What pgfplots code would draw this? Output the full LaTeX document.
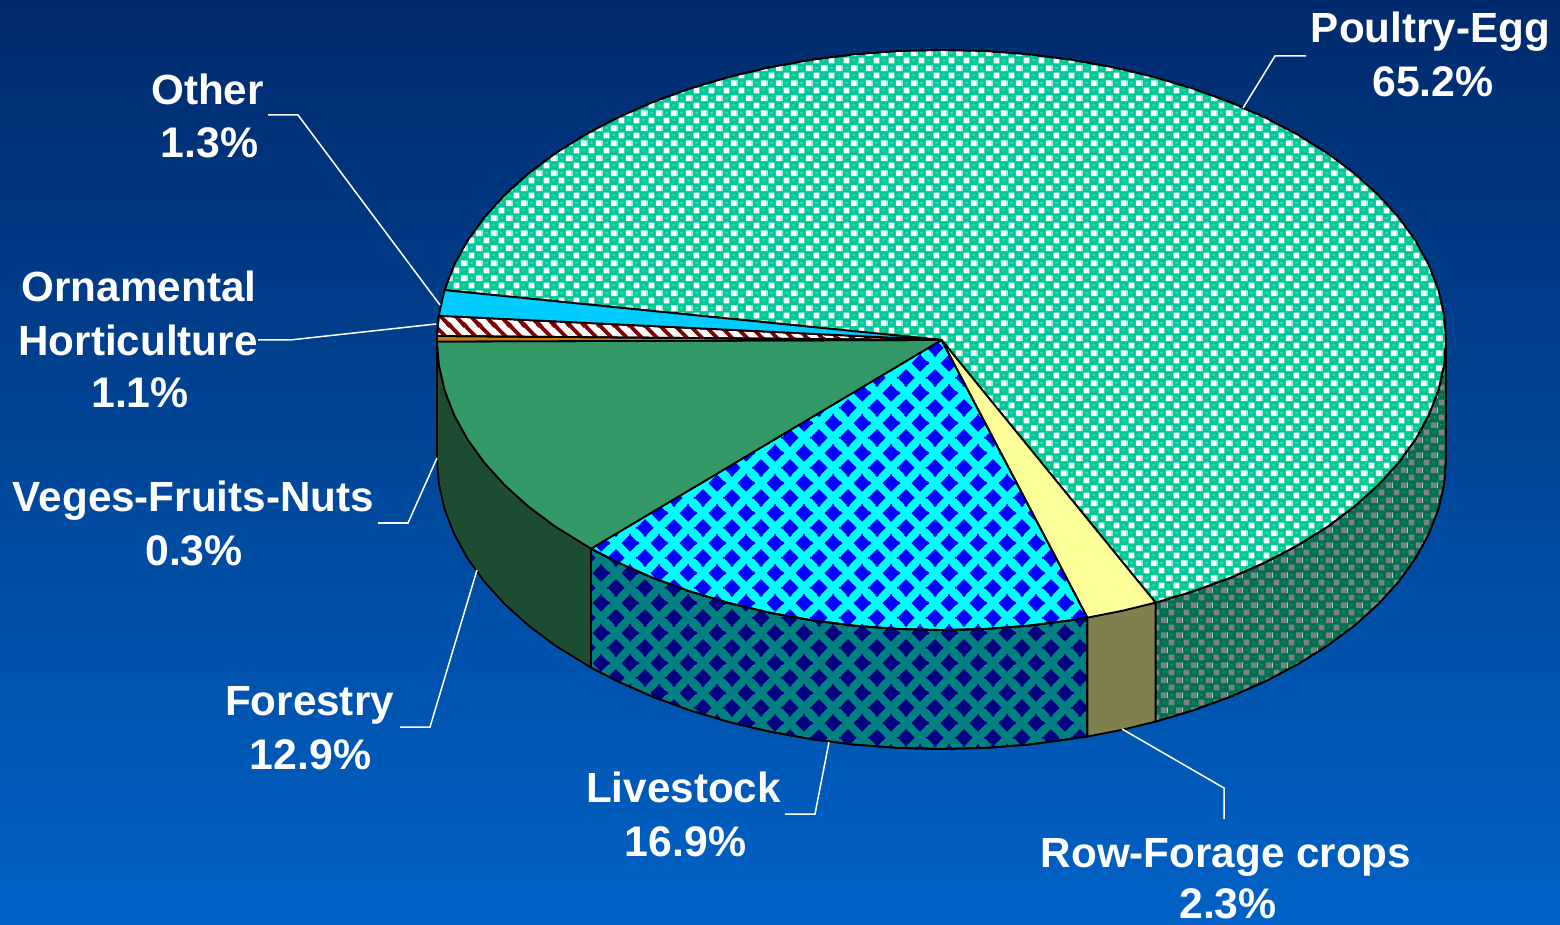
\documentclass[border=0pt]{standalone}
\usepackage{pgfplots}
\pgfplotsset{compat=1.18}
\usepackage{pgfplotstable}
\usepackage{fontspec}
\setmainfont{Liberation Sans}
\usetikzlibrary{patterns}
\definecolor{bgtop}{RGB}{0,42,108}
\definecolor{bgbot}{RGB}{0,98,198}
\definecolor{pdot}{RGB}{0,200,150}
\definecolor{phi}{RGB}{130,235,205}
\definecolor{pdotd}{RGB}{0,112,84}
\definecolor{phid}{RGB}{70,140,115}
\definecolor{pgray}{RGB}{128,128,128}
\definecolor{forT}{RGB}{51,153,102}
\definecolor{forS}{RGB}{28,77,51}
\definecolor{rowT}{RGB}{255,255,153}
\definecolor{rowS}{RGB}{128,128,77}
\definecolor{othT}{RGB}{0,204,255}
\definecolor{vegT}{RGB}{204,120,20}
\definecolor{hatch}{RGB}{128,0,0}
\definecolor{lvT}{RGB}{0,255,255}
\definecolor{lvD}{RGB}{0,0,255}
\definecolor{lvS}{RGB}{0,128,128}
\definecolor{lvN}{RGB}{0,0,128}
\newcommand{\checktile}[2]{%
 \pgfsetfillcolor{#1}%
 \pgfpathrectangle{\pgfqpoint{0.35pt}{0.35pt}}{\pgfqpoint{2.95pt}{2.95pt}}\pgfusepath{fill}%
 \pgfpathrectangle{\pgfqpoint{4pt}{4pt}}{\pgfqpoint{2.95pt}{2.95pt}}\pgfusepath{fill}%
 \pgfsetfillcolor{#2}%
 \pgfpathrectangle{\pgfqpoint{1.2pt}{5.5pt}}{\pgfqpoint{1.2pt}{0.45pt}}\pgfusepath{fill}%
 \pgfpathrectangle{\pgfqpoint{4.85pt}{1.85pt}}{\pgfqpoint{1.2pt}{0.45pt}}\pgfusepath{fill}}
\pgfdeclarepatterninherentlycolored{poultryT}{\pgfpointorigin}{\pgfqpoint{7.3pt}{7.3pt}}{\pgfqpoint{7.3pt}{7.3pt}}{\checktile{white}{phi}}
\pgfdeclarepatterninherentlycolored{poultryS}{\pgfpointorigin}{\pgfqpoint{7.3pt}{7.3pt}}{\pgfqpoint{7.3pt}{7.3pt}}{\checktile{pgray}{phid}}
\newcommand{\dia}[2]{%
 \pgfpathmoveto{\pgfqpoint{\dimexpr#1pt+4.4pt}{#2pt}}%
 \pgfpathlineto{\pgfqpoint{#1pt}{\dimexpr#2pt+4.4pt}}%
 \pgfpathlineto{\pgfqpoint{\dimexpr#1pt-4.4pt}{#2pt}}%
 \pgfpathlineto{\pgfqpoint{#1pt}{\dimexpr#2pt-4.4pt}}%
 \pgfpathclose\pgfusepath{fill}}
\newcommand{\diamondtile}[1]{\pgfsetfillcolor{#1}%
 \dia{3.625}{3.75}\dia{10.875}{11.25}\dia{18.125}{3.75}\dia{3.625}{18.75}\dia{-3.625}{11.25}\dia{10.875}{-3.75}}
\pgfdeclarepatterninherentlycolored{liveT}{\pgfpointorigin}{\pgfqpoint{14.5pt}{15pt}}{\pgfqpoint{14.5pt}{15pt}}{\diamondtile{lvD}}
\pgfdeclarepatterninherentlycolored{liveS}{\pgfpointorigin}{\pgfqpoint{14.5pt}{15pt}}{\pgfqpoint{14.5pt}{15pt}}{\diamondtile{lvN}}
\pgfdeclarepatterninherentlycolored{orn}{\pgfpointorigin}{\pgfqpoint{7.5pt}{7.5pt}}{\pgfqpoint{7.5pt}{7.5pt}}{%
 \pgfsetstrokecolor{hatch}\pgfsetlinewidth{2pt}%
 \pgfpathmoveto{\pgfqpoint{-1pt}{8.5pt}}\pgfpathlineto{\pgfqpoint{8.5pt}{-1pt}}%
 \pgfpathmoveto{\pgfqpoint{-1pt}{1pt}}\pgfpathlineto{\pgfqpoint{1pt}{-1pt}}%
 \pgfpathmoveto{\pgfqpoint{6.5pt}{8.5pt}}\pgfpathlineto{\pgfqpoint{8.5pt}{6.5pt}}\pgfusepath{stroke}}
% top faces: rim angle t (deg), r=1 on the rim, r=0 at the centre
\pgfplotstableread{
t r
189.9 1
195 1
200 1
205 1
210 1
215 1
220 1
225 1
230 1
235 1
240 1
245 1
250 1
255 1
260 1
265 1
270 1
275 1
280 1
285 1
290 1
295 1
300 1
305 1
310 1
315 1
320 1
325 1
330 1
335 1
340 1
345 1
350 1
355 1
360 1
365 1
370 1
375 1
380 1
385 1
390 1
395 1
400 1
405 1
410 1
415 1
420 1
424.9 1
0 0
}\topPoultry
\pgfplotstableread{
t r
64.9 1
69 1
73.2 1
0 0
}\topRow
\pgfplotstableread{
t r
73.2 1
75 1
80 1
85 1
90 1
95 1
100 1
105 1
110 1
115 1
120 1
125 1
130 1
134 1
0 0
}\topLive
\pgfplotstableread{
t r
134 1
140 1
145 1
150 1
155 1
160 1
165 1
170 1
175 1
179.7 1
0 0
}\topFor
\pgfplotstableread{
t r
179.7 1
180.8 1
0 0
}\topVeg
\pgfplotstableread{
t r
180.8 1
184.8 1
0 0
}\topOrn
\pgfplotstableread{
t r
184.8 1
189.9 1
0 0
}\topOth
% side faces: rim angle t, d=0 top edge, d=1 bottom edge
\pgfplotstableread{
t d
0 0
5 0
10 0
15 0
20 0
25 0
30 0
35 0
40 0
45 0
50 0
55 0
60 0
64.9 0
64.9 1
60 1
55 1
50 1
45 1
40 1
35 1
30 1
25 1
20 1
15 1
10 1
5 1
0 1
}\sidePoultry
\pgfplotstableread{
t d
64.9 0
69 0
73.2 0
73.2 1
69 1
64.9 1
}\sideRow
\pgfplotstableread{
t d
73.2 0
80 0
85 0
90 0
95 0
100 0
105 0
110 0
115 0
120 0
125 0
130 0
134 0
134 1
130 1
125 1
120 1
115 1
110 1
105 1
100 1
95 1
90 1
85 1
80 1
73.2 1
}\sideLive
\pgfplotstableread{
t d
134 0
140 0
145 0
150 0
155 0
160 0
165 0
170 0
175 0
180 0
180 1
175 1
170 1
165 1
160 1
155 1
150 1
145 1
140 1
134 1
}\sideFor
\tikzset{lab/.style={anchor=base,inner sep=0pt,white,font=\fontsize{21.1pt}{27pt}\selectfont\bfseries},
 pct/.style={anchor=base,inner sep=0pt,white,font=\fontsize{21.4pt}{27pt}\selectfont\bfseries}}
\pgfplotsset{
  topf/.style={line width=0.9pt,draw=black,line join=round},
  lead/.style={white,line width=0.75pt,no markers},
}
\newcommand{\topface}[2]{\addplot[topf,#1] table[x expr=941.5+504.5*\thisrow{r}*cos(\thisrow{t}),y expr=340+290*\thisrow{r}*sin(\thisrow{t})]{#2} --cycle;}
\newcommand{\sideface}[2]{\addplot[topf,#1] table[x expr=941.5+504.5*cos(\thisrow{t}),y expr=340+290*sin(\thisrow{t})+119*\thisrow{d}]{#2} --cycle;}
\begin{document}
\begin{tikzpicture}
\shade[top color=bgtop,bottom color=bgbot] (0pt,0pt) rectangle (780pt,462.5pt);
\begin{axis}[at={(0pt,0pt)},anchor=south west,scale only axis,width=780pt,height=462.5pt,
  xmin=0,xmax=1560,ymin=0,ymax=925,y dir=reverse,hide axis,clip=false,no markers]
\sideface{fill=pdotd}{\sidePoultry}
\sideface{pattern=poultryS}{\sidePoultry}
\sideface{fill=rowS}{\sideRow}
\sideface{fill=lvS}{\sideLive}
\sideface{pattern=liveS}{\sideLive}
\sideface{fill=forS}{\sideFor}
\topface{fill=pdot}{\topPoultry}
\topface{pattern=poultryT}{\topPoultry}
\topface{fill=rowT}{\topRow}
\topface{fill=lvT}{\topLive}
\topface{pattern=liveT}{\topLive}
\topface{fill=forT}{\topFor}
\topface{fill=vegT}{\topVeg}
\topface{fill=white}{\topOrn}
\topface{pattern=orn}{\topOrn}
\topface{fill=othT}{\topOth}
\addplot[lead] coordinates {(1243,108) (1275,56) (1306,56)};
\addplot[lead] coordinates {(268,115) (298,115) (440,305)};
\addplot[lead] coordinates {(258,340) (290,340) (436,324)};
\addplot[lead] coordinates {(437,458) (408,523) (378,523)};
\addplot[lead] coordinates {(477,570) (430,727) (400,727)};
\addplot[lead] coordinates {(829,742) (815,814) (785,814)};
\addplot[lead] coordinates {(1122,729) (1224,788) (1224,819)};
\node[lab] at (axis cs:1430.5,43) {Poultry-Egg};
\node[pct] at (axis cs:1433,97) {65.2\%};
\node[lab] at (axis cs:207.5,105) {Other};
\node[pct] at (axis cs:209.5,158) {1.3\%};
\node[lab] at (axis cs:139,302) {Ornamental};
\node[lab] at (axis cs:138,356) {Horticulture};
\node[pct] at (axis cs:140,408) {1.1\%};
\node[lab] at (axis cs:193.5,511) {Veges-Fruits-Nuts};
\node[pct] at (axis cs:194,566) {0.3\%};
\node[lab] at (axis cs:309.5,715) {Forestry};
\node[pct] at (axis cs:310.5,769) {12.9\%};
\node[lab] at (axis cs:683.5,802) {Livestock};
\node[pct] at (axis cs:685.5,856) {16.9\%};
\node[lab] at (axis cs:1226,867) {Row-Forage crops};
\node[pct] at (axis cs:1228,918) {2.3\%};
\end{axis}
\end{tikzpicture}
\end{document}
